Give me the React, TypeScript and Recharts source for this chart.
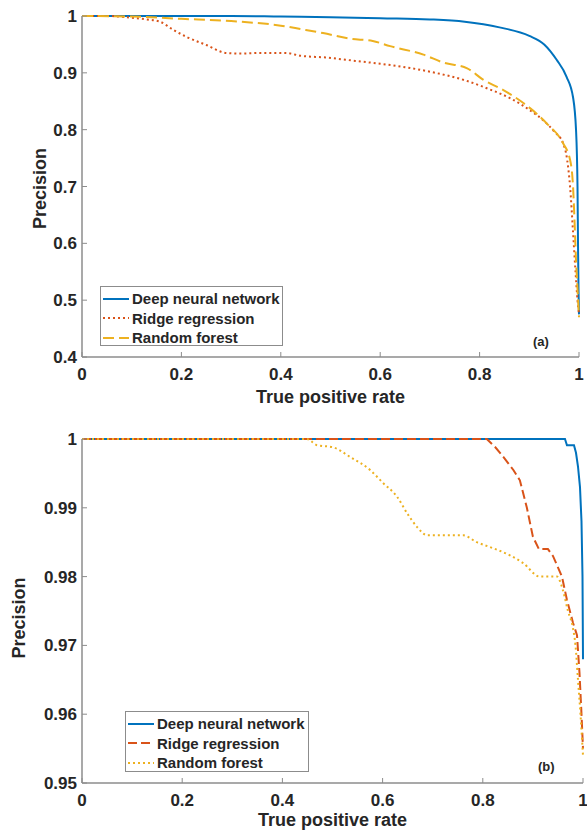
import React from 'react';
import { LineChart, Line, XAxis, YAxis, Legend, Label } from 'recharts';

const FONT = '"Liberation Sans", Arial, Helvetica, sans-serif';
const AXIS_GRAY = '#8c8c8c';
const TEXT = '#262626';
const BLUE = '#0072BD';
const ORANGE = '#D95319';
const YELLOW = '#EDB120';

const DOTTED = '2 3';
const DASHED_LONG = '11 5';
const DASHED = '9 4';

const xTicks = [0, 0.2, 0.4, 0.6, 0.8, 1];
const yTicksA = [0.4, 0.5, 0.6, 0.7, 0.8, 0.9, 1];
const yTicksB = [0.95, 0.96, 0.97, 0.98, 0.99, 1];

const seriesNames = ['Deep neural network', 'Ridge regression', 'Random forest'];

// Panel (a): [true positive rate, precision]
const dnnA: [number, number][] = [
  [0, 1], [0.1, 1], [0.2, 1], [0.3, 1], [0.4, 0.999], [0.5, 0.998], [0.6, 0.996],
  [0.7, 0.994], [0.77, 0.99], [0.84, 0.98], [0.9, 0.965], [0.93, 0.95], [0.955, 0.923],
  [0.975, 0.893], [0.988, 0.857], [0.994, 0.8], [0.997, 0.7], [0.998, 0.6], [0.999, 0.52],
  [1, 0.475],
];
const ridgeA: [number, number][] = [
  [0, 1], [0.05, 1], [0.1, 0.997], [0.13, 0.994], [0.157, 0.99], [0.183, 0.976],
  [0.211, 0.963], [0.25, 0.949], [0.29, 0.935], [0.32, 0.934], [0.36, 0.935], [0.41, 0.935],
  [0.44, 0.93], [0.49, 0.927], [0.55, 0.921], [0.6, 0.916], [0.65, 0.91], [0.7, 0.902],
  [0.77, 0.887], [0.82, 0.871], [0.86, 0.856], [0.9, 0.835], [0.93, 0.815], [0.95, 0.797],
  [0.968, 0.776], [0.976, 0.748], [0.982, 0.7], [0.988, 0.62], [0.993, 0.55], [0.997, 0.5],
  [1, 0.475],
];
const forestA: [number, number][] = [
  [0, 1], [0.1, 0.999], [0.2, 0.995], [0.3, 0.991], [0.4, 0.983], [0.44, 0.977],
  [0.485, 0.97], [0.54, 0.96], [0.585, 0.956], [0.62, 0.947], [0.687, 0.932], [0.727, 0.918],
  [0.775, 0.908], [0.807, 0.888], [0.847, 0.87], [0.888, 0.847], [0.935, 0.811],
  [0.968, 0.776], [0.982, 0.747], [0.988, 0.7], [0.991, 0.64], [0.994, 0.57], [0.997, 0.52],
  [1, 0.47],
];

// Panel (b): [true positive rate, precision]
const dnnB: [number, number][] = [
  [0, 1], [0.964, 1], [0.968, 0.9991], [0.982, 0.9991], [0.986, 0.998], [0.99, 0.996],
  [0.994, 0.993], [0.997, 0.988], [0.999, 0.98], [1, 0.968],
];
const ridgeB: [number, number][] = [
  [0, 1], [0.808, 1], [0.825, 0.9988], [0.841, 0.9974], [0.861, 0.9955], [0.874, 0.994],
  [0.888, 0.99], [0.9, 0.9858], [0.912, 0.984], [0.93, 0.984], [0.94, 0.983], [0.958, 0.98],
  [0.968, 0.9766], [0.98, 0.9733], [0.988, 0.9715], [0.993, 0.966], [0.997, 0.96], [1, 0.955],
];
const forestB: [number, number][] = [
  [0, 1], [0.449, 1], [0.469, 0.9991], [0.501, 0.9988], [0.535, 0.9974], [0.575, 0.9955],
  [0.601, 0.9936], [0.629, 0.9916], [0.649, 0.9892], [0.669, 0.9872], [0.689, 0.986],
  [0.761, 0.986], [0.788, 0.985], [0.814, 0.9843], [0.854, 0.9831], [0.88, 0.982],
  [0.914, 0.98], [0.948, 0.98], [0.96, 0.978], [0.97, 0.975], [0.98, 0.9725], [0.985, 0.97],
  [0.99, 0.965], [0.995, 0.96], [1, 0.954],
];

const toRows = (pts: [number, number][]) => pts.map(([tpr, precision]) => ({ tpr, precision }));

type SeriesStyle = { name: string; color: string; dash?: string; data: [number, number][]; curve: 'linear' | 'monotone' };

const panelASeries: SeriesStyle[] = [
  { name: seriesNames[0], color: BLUE, data: dnnA, curve: 'monotone' },
  { name: seriesNames[1], color: ORANGE, dash: DOTTED, data: ridgeA, curve: 'monotone' },
  { name: seriesNames[2], color: YELLOW, dash: DASHED_LONG, data: forestA, curve: 'monotone' },
];
const panelBSeries: SeriesStyle[] = [
  { name: seriesNames[0], color: BLUE, data: dnnB, curve: 'linear' },
  { name: seriesNames[1], color: ORANGE, dash: DASHED, data: ridgeB, curve: 'linear' },
  { name: seriesNames[2], color: YELLOW, dash: DOTTED, data: forestB, curve: 'monotone' },
];

const tickStyle = { fill: TEXT, fontSize: 17, fontWeight: 700, fontFamily: FONT };
const fmt = (v: number) => String(v);

const LegendBox = ({ items, width, height }: { items: SeriesStyle[]; width: number; height: number }) => (
  <div
    style={{
      boxSizing: 'border-box',
      width,
      height,
      border: `1px solid ${AXIS_GRAY}`,
      background: '#fff',
      padding: '2px 0 0 2px',
      fontFamily: FONT,
      fontWeight: 700,
      fontSize: 15,
      color: TEXT,
      lineHeight: '19.5px',
      whiteSpace: 'nowrap',
    }}
  >
    {items.map((it) => (
      <div key={it.name} style={{ display: 'flex', alignItems: 'center', height: 19.5 }}>
        <svg width={26} height={4} style={{ display: 'block' }}>
          <line x1={0} y1={2} x2={26} y2={2} stroke={it.color} strokeWidth={2} strokeDasharray={it.dash} />
        </svg>
        <span style={{ marginLeft: 3 }}>{it.name}</span>
      </div>
    ))}
  </div>
);

type PanelProps = {
  series: SeriesStyle[];
  yTicks: number[];
  yDomain: [number, number];
  height: number;
  margin: { top: number; right: number; left: number; bottom: number };
  xAxisHeight: number;
  xTitleY: number;
  yTitleX: number;
  yTitleShift: number;
  legendPos: { left: number; top: number; width: number; height: number };
  tag: string;
  tagPos: { left: number; top: number };
};

const Panel = (p: PanelProps) => (
  <div style={{ position: 'relative', width: 587, height: p.height }}>
    <LineChart width={587} height={p.height} margin={p.margin}>
      <XAxis
        dataKey="tpr"
        type="number"
        domain={[0, 1]}
        ticks={xTicks}
        interval={0}
        tickFormatter={fmt}
        height={p.xAxisHeight}
        tickSize={-5}
        tickMargin={16}
        tick={tickStyle}
        stroke={AXIS_GRAY}
        axisLine={{ stroke: AXIS_GRAY, strokeWidth: 1.5 }}
        tickLine={{ stroke: AXIS_GRAY, strokeWidth: 1 }}
      >
        <Label
          content={({ viewBox }: any) => (
            <text
              x={viewBox.x + viewBox.width / 2}
              y={viewBox.y + p.xTitleY}
              textAnchor="middle"
              fill={TEXT}
              fontFamily={FONT}
              fontWeight={700}
              fontSize={18}
            >
              True positive rate
            </text>
          )}
        />
      </XAxis>
      <XAxis
        xAxisId="top"
        orientation="top"
        type="number"
        domain={[0, 1]}
        ticks={xTicks}
        interval={0}
        height={0}
        tickSize={-5}
        tick={false}
        axisLine={{ stroke: AXIS_GRAY, strokeWidth: 1.5 }}
        tickLine={{ stroke: AXIS_GRAY, strokeWidth: 1 }}
      />
      <YAxis
        type="number"
        domain={p.yDomain}
        ticks={p.yTicks}
        interval={0}
        tickFormatter={fmt}
        width={82}
        tickSize={-5}
        tickMargin={10}
        tick={tickStyle}
        axisLine={{ stroke: AXIS_GRAY, strokeWidth: 1.5 }}
        tickLine={{ stroke: AXIS_GRAY, strokeWidth: 1 }}
      >
        <Label
          content={({ viewBox }: any) => {
            const cx = p.yTitleX;
            const cy = viewBox.y + viewBox.height / 2 + p.yTitleShift;
            return (
              <text
                x={cx}
                y={cy}
                transform={`rotate(-90, ${cx}, ${cy})`}
                textAnchor="middle"
                fill={TEXT}
                fontFamily={FONT}
                fontWeight={700}
                fontSize={18}
              >
                Precision
              </text>
            );
          }}
        />
      </YAxis>
      <YAxis
        yAxisId="right"
        orientation="right"
        type="number"
        domain={p.yDomain}
        ticks={p.yTicks}
        interval={0}
        width={0}
        tickSize={-5}
        tick={false}
        axisLine={{ stroke: AXIS_GRAY, strokeWidth: 1.5 }}
        tickLine={{ stroke: AXIS_GRAY, strokeWidth: 1 }}
      />
      {p.series.map((s) => (
        <Line
          key={s.name}
          name={s.name}
          data={toRows(s.data)}
          dataKey="precision"
          type={s.curve}
          stroke={s.color}
          strokeWidth={2}
          strokeDasharray={s.dash}
          dot={false}
          activeDot={false}
          isAnimationActive={false}
        />
      ))}
      <Legend
        layout="horizontal"
        verticalAlign="middle"
        align="center"
        width={p.legendPos.width}
        wrapperStyle={{ left: p.legendPos.left, top: p.legendPos.top, right: 'auto', bottom: 'auto' }}
        content={() => <LegendBox items={p.series} width={p.legendPos.width} height={p.legendPos.height} />}
      />
    </LineChart>
    <div
      style={{
        position: 'absolute',
        left: p.tagPos.left,
        top: p.tagPos.top,
        fontFamily: FONT,
        fontWeight: 700,
        fontSize: 13,
        color: TEXT,
        lineHeight: '14px',
      }}
    >
      {p.tag}
    </div>
  </div>
);

export default function App() {
  return (
    <div style={{ position: 'absolute', left: 0, top: 0, width: 587, height: 831, background: '#fff' }}>
      <Panel
        series={panelASeries}
        yTicks={yTicksA}
        yDomain={[0.4, 1]}
        height={420}
        margin={{ top: 16, right: 8, left: 0, bottom: 0 }}
        xAxisHeight={63}
        xTitleY={46}
        yTitleX={46}
        yTitleShift={2}
        legendPos={{ left: 100, top: 286, width: 183, height: 60 }}
        tag="(a)"
        tagPos={{ left: 533, top: 335 }}
      />
      <Panel
        series={panelBSeries}
        yTicks={yTicksB}
        yDomain={[0.95, 1]}
        height={411}
        margin={{ top: 19, right: 4, left: 0, bottom: 0 }}
        xAxisHeight={48}
        xTitleY={43}
        yTitleX={25}
        yTitleShift={7}
        legendPos={{ left: 125, top: 291, width: 184, height: 61 }}
        tag="(b)"
        tagPos={{ left: 538, top: 340 }}
      />
    </div>
  );
}
